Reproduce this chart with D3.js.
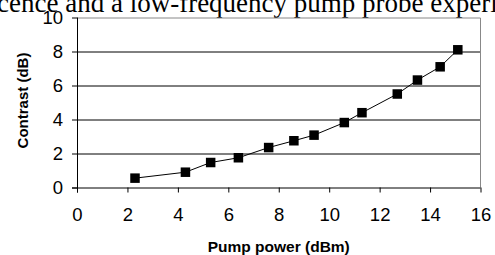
<!DOCTYPE html>
<html>
<head>
<meta charset="utf-8">
<script src="https://cdn.jsdelivr.net/npm/d3@7"></script>
<style>
  body { margin: 0; background: #fff; }
  svg { display: block; }
  .tick text { font-family: Arial, "Liberation Sans", sans-serif; font-size: 18.5px; fill: #000; }
</style>
</head>
<body>
<div id="chart"></div>
<script>
var pumpPower = [2.3, 4.3, 5.3, 6.4, 7.6, 8.6, 9.4, 10.6, 11.3, 12.7, 13.5, 14.4, 15.1];
var contrast  = [0.55, 0.9, 1.47, 1.75, 2.35, 2.75, 3.08, 3.82, 4.4, 5.5, 6.32, 7.1, 8.1];
var xTicks = [0, 2, 4, 6, 8, 10, 12, 14, 16];
var yTicks = [0, 2, 4, 6, 8, 10];

var W = 495, H = 255;
var margin = {top: 17.5, right: 14.5, bottom: 67.5, left: 77};
var width = W - margin.left - margin.right;
var height = H - margin.top - margin.bottom;

var root = d3.select("#chart").append("svg")
  .attr("width", W).attr("height", H);

// clipped caption text from the page above the figure
root.append("text")
  .attr("x", -3).attr("y", 12)
  .attr("font-family", "'Liberation Serif', 'Times New Roman', serif")
  .attr("font-size", 27)
  .text("cence and a low-frequency pump probe experi");

var svg = root.append("g")
  .attr("transform", "translate(" + margin.left + "," + margin.top + ")");

var x = d3.scaleLinear().domain([0, 16]).range([0, width]);
var y = d3.scaleLinear().domain([0, 10]).range([height, 0]);

// gridlines
svg.selectAll(".grid").data(yTicks.filter(function(d){ return d > 0 && d < 10; }))
  .enter().append("line")
  .attr("x1", 0).attr("x2", width)
  .attr("y1", function(d){ return Math.round(y(d)) + 0.5; })
  .attr("y2", function(d){ return Math.round(y(d)) + 0.5; })
  .attr("stroke", "#000").attr("stroke-width", 1);

// plot border top/right
svg.append("path")
  .attr("d", "M0," + (Math.round(y(10)) + 0.5) + "H" + width + "V" + height)
  .attr("fill", "none").attr("stroke", "#888").attr("stroke-width", 1);

// axes
var xAxis = svg.append("g")
  .attr("transform", "translate(0," + height + ")")
  .call(d3.axisBottom(x).tickValues(xTicks).tickSize(5).tickPadding(15).tickSizeOuter(0));
var yAxis = svg.append("g")
  .call(d3.axisLeft(y).tickValues(yTicks).tickSize(5).tickPadding(9).tickSizeOuter(0));
xAxis.select(".domain").attr("stroke", "#000").attr("d", "M-5,0.5H" + width);
yAxis.select(".domain").attr("stroke", "#000").attr("d", "M0.5,0V" + (height + 5));
svg.selectAll(".tick line").attr("stroke", "#000");

// line
var line = d3.line()
  .x(function(d, i){ return x(pumpPower[i]); })
  .y(function(d){ return y(d); });
svg.append("path")
  .datum(contrast)
  .attr("d", line)
  .attr("fill", "none").attr("stroke", "#000").attr("stroke-width", 1);

// markers
var ms = 9.5;
svg.selectAll(".pt").data(contrast).enter().append("rect")
  .attr("x", function(d, i){ return x(pumpPower[i]) - ms / 2; })
  .attr("y", function(d){ return y(d) - ms / 2; })
  .attr("width", ms).attr("height", ms)
  .attr("fill", "#000");

// axis titles
root.append("text")
  .attr("x", margin.left + x(8)).attr("y", 252)
  .attr("text-anchor", "middle")
  .attr("font-family", "Arial, 'Liberation Sans', sans-serif")
  .attr("font-size", 15.5).attr("font-weight", "bold")
  .text("Pump power (dBm)");
root.append("text")
  .attr("transform", "translate(28," + (margin.top + height / 2 - 2) + ") rotate(-90)")
  .attr("text-anchor", "middle")
  .attr("font-family", "Arial, 'Liberation Sans', sans-serif")
  .attr("font-size", 15).attr("font-weight", "bold")
  .text("Contrast (dB)");
</script>
</body>
</html>
